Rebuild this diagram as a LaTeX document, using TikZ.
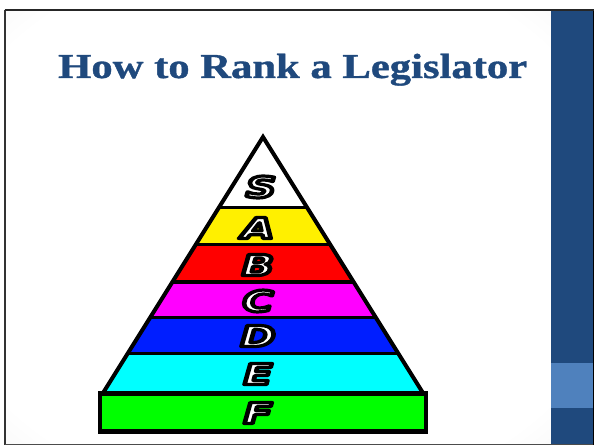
\documentclass[tikz,border=0pt]{standalone}
\usepackage{fontspec}
\setmainfont{Liberation Serif}
\newfontfamily\letfont{DejaVu Sans}
\usepackage{graphicx}
\definecolor{titleblue}{RGB}{31,73,125}
\definecolor{panelblue}{RGB}{31,73,125}
\definecolor{bandblue}{RGB}{79,129,189}
\definecolor{pyrblue}{RGB}{0,30,255}
\definecolor{pyrgreen}{RGB}{0,255,0}
\definecolor{pyrcyan}{RGB}{0,255,255}
\definecolor{pyrmag}{RGB}{255,0,255}
\definecolor{pyrred}{RGB}{255,0,0}
\definecolor{pyryellow}{RGB}{255,240,0}
\pgfdeclareradialshading{slidebg}{\pgfpoint{0bp}{0bp}}{color(0bp)=(white); color(32bp)=(white); color(50bp)=(black!9); color(71bp)=(black!15)}
\newcommand{\outl}[1]{\special{pdf:literal direct 0 G 3.2 w 1 j 2 Tr}#1\special{pdf:literal direct 0 Tr}}
\newcommand{\heavy}[1]{\special{pdf:literal direct 0.122 0.286 0.490 RG 0.35 w 1 j 2 Tr}#1\special{pdf:literal direct 0 Tr}}
\tikzset{
  letter/.style={inner sep=0pt, text=white, font=\letfont\bfseries\itshape\fontsize{29}{32}\selectfont},
  sepline/.style={line width=3pt, black},
}
\begin{document}
\begin{tikzpicture}[x=1pt,y=-1pt]
\useasboundingbox (0,0) rectangle (594,446);
\fill[white] (0,0) rectangle (594,446);
\shade[shading=slidebg] (5,10) rectangle (551,444);
\fill[panelblue] (551,10) rectangle (593,444);
\fill[bandblue] (551,363) rectangle (593,408);
\draw[black!80, line width=1.2pt] (5,444.5) -- (5,10);
\draw[black!70, line width=1pt] (5,444.8) -- (593,444.8);
\draw[black, line width=1.2pt] (593.4,444.8) -- (593.4,10);
\draw[black!85, line width=2pt] (4.5,10) -- (594,10);
\node[anchor=base west, inner sep=0pt, text=titleblue, font=\bfseries\fontsize{35}{40}\selectfont] (title) at (58,78) {\resizebox{469pt}{\height}{\heavy{How to Rank a Legislator}}};
\coordinate (apex) at (263,137);
\coordinate (bl) at (103,393);
\coordinate (br) at (423,393);
\begin{scope}
\clip (apex) -- (bl) -- (br) -- cycle;
\fill[white] (90,120) rectangle (440,208);
\fill[pyryellow] (90,208) rectangle (440,245);
\fill[pyrred] (90,245) rectangle (440,282);
\fill[pyrmag] (90,282) rectangle (440,317);
\fill[pyrblue] (90,317) rectangle (440,353);
\fill[pyrcyan] (90,353) rectangle (440,395);
\draw[sepline] (90,208) -- (440,208);
\draw[sepline] (90,245) -- (440,245);
\draw[sepline] (90,282) -- (440,282);
\draw[sepline] (90,317) -- (440,317);
\draw[sepline] (90,353) -- (440,353);
\end{scope}
\draw[line width=4pt, line join=miter] (apex) -- (bl) -- (br) -- cycle;
\node[draw=black, line width=4.5pt, fill=pyrgreen, minimum width=326pt, minimum height=38pt, inner sep=0pt] (base) at (263,412.5) {};
\node[letter] (S) at (261,187) {\scalebox{1.45}[1]{\outl{S}}};
\node[letter] (A) at (258,228) {\scalebox{1.45}[1]{\outl{A}}};
\node[letter] (B) at (258,265) {\scalebox{1.45}[1]{\outl{B}}};
\node[letter] (C) at (258,301) {\scalebox{1.45}[1]{\outl{C}}};
\node[letter] (D) at (258,336) {\scalebox{1.45}[1]{\outl{D}}};
\node[letter] (E) at (258,374) {\scalebox{1.45}[1]{\outl{E}}};
\node[letter] (F) at (258,413) {\scalebox{1.45}[1]{\outl{F}}};
\end{tikzpicture}
\end{document}
